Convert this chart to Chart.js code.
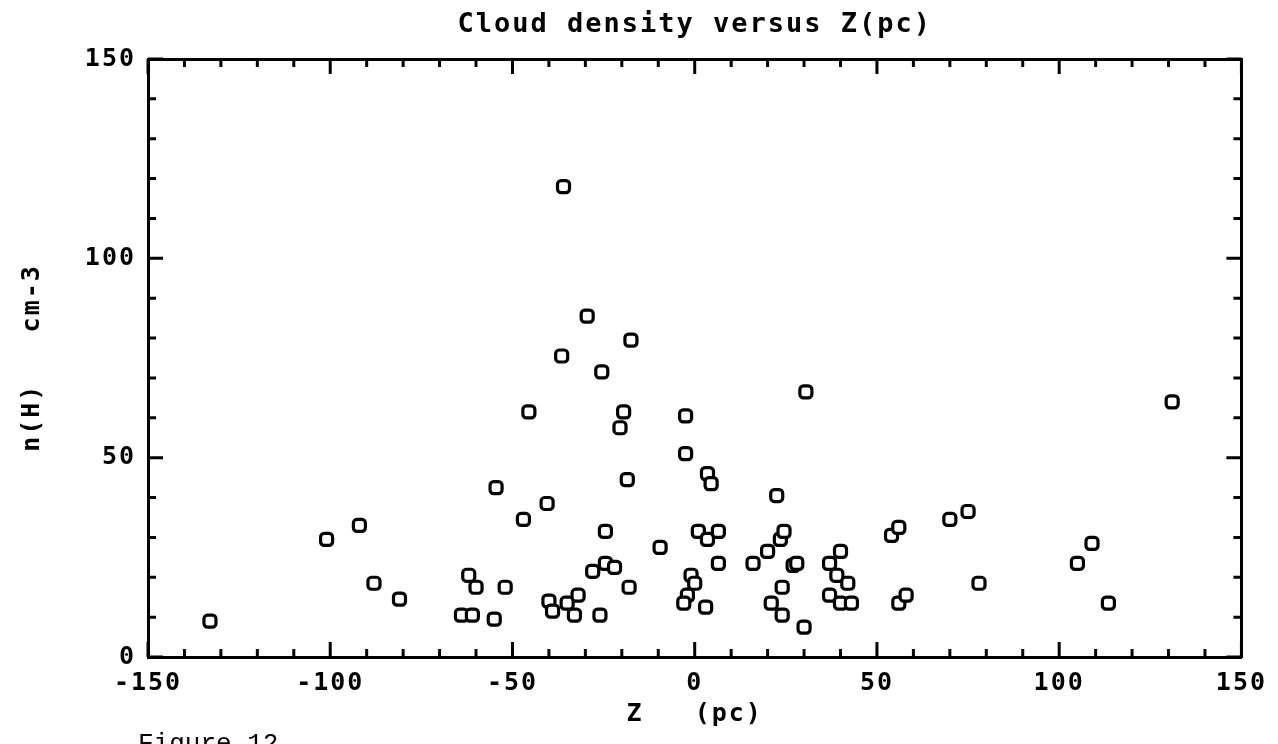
<!DOCTYPE html>
<html>
<head>
<meta charset="utf-8">
<script src="https://cdn.jsdelivr.net/npm/chart.js@4/dist/chart.umd.min.js"></script>
<style>
  html, body { margin: 0; padding: 0; background: #fff; overflow: hidden; }
  #wrap { position: relative; width: 1278px; height: 744px; overflow: hidden; }
  #fig { position: absolute; left: 138px; top: 731px; font-family: "Liberation Mono", monospace; font-size: 26px; line-height: 26px; color: #000; white-space: pre; }
</style>
</head>
<body>
<div id="wrap">
<canvas id="c" width="1278" height="744"></canvas>
<div id="fig">Figure 12</div>
</div>
<script>
// ---- data ----
const zValues = [
  -133, -101, -92, -88, -81, -64, -61, -62, -60, -55, -54.5, -52, -47, -45.5,
  -17.5, -36.5, -25.5, -19.5, -20.5, -2.5, -2.5, 30.5, -18.5, -40.5, 3.5, 4.5, 22.5,
  -24.5, -9.5, 1, 3.5, 6.5, 6.5, -24.5, -22, -28, -18, -40, -39, -35, -32, -33, -26,
  -1, 0, -2, -3, 3, 16, 20, 23.5, 24.5, 27, 28, 24, 21, 24, 30,
  37, 40, 39, 42, 37, 40, 43, 54, 56, 56, 58,
  -36, -29.5, 131, 70, 75, 78, 105, 109, 113.5
];
const densityValues = [
  9, 29.5, 33, 18.5, 14.5, 10.5, 10.5, 20.5, 17.5, 9.5, 42.5, 17.5, 34.5, 61.5,
  79.5, 75.5, 71.5, 61.5, 57.5, 60.5, 51, 66.5, 44.5, 38.5, 46, 43.5, 40.5,
  31.5, 27.5, 31.5, 29.5, 31.5, 23.5, 23.5, 22.5, 21.5, 17.5, 14, 11.5, 13.5, 15.5, 10.5, 10.5,
  20.5, 18.5, 15.5, 13.5, 12.5, 23.5, 26.5, 29.5, 31.5, 23, 23.5, 17.5, 13.5, 10.5, 7.5,
  23.5, 26.5, 20.5, 18.5, 15.5, 13.5, 13.5, 30.5, 32.5, 13.5, 15.5,
  118, 85.5, 64, 34.5, 36.5, 18.5, 23.5, 28.5, 13.5
];
const xRange = [-150, 150];
const yRange = [0, 150];
const xTickLabels = [-150, -100, -50, 0, 50, 100, 150];
const yTickLabels = [0, 50, 100, 150];
const titleText = 'Cloud density versus Z(pc)';
const xTitle = 'Z   (pc)';
const yTitle = 'n(H)   cm-3';

const points = zValues.map((z, i) => ({ x: z, y: densityValues[i] }));

const FONT = '"DejaVu Sans Mono", monospace';
const spacingPlugin = {
  id: 'spacing',
  beforeLayout(chart) { chart.ctx.letterSpacing = '2px'; },
  beforeDraw(chart) { chart.ctx.letterSpacing = '2px'; }
};
const inwardTicks = {
  id: 'inwardTicks',
  afterDatasetsDraw(chart) {
    const { ctx, chartArea: a, scales } = chart;
    ctx.save();
    ctx.strokeStyle = '#000';
    ctx.lineWidth = 3;
    ctx.lineCap = 'butt';
    ctx.beginPath();
    scales.x.ticks.forEach(t => {
      const px = scales.x.getPixelForValue(t.value);
      const len = xTickLabels.includes(t.value) ? 15 : 8;
      ctx.moveTo(px, a.bottom); ctx.lineTo(px, a.bottom - len);
      ctx.moveTo(px, a.top); ctx.lineTo(px, a.top + len);
    });
    scales.y.ticks.forEach(t => {
      const py = scales.y.getPixelForValue(t.value);
      const len = yTickLabels.includes(t.value) ? 15 : 8;
      ctx.moveTo(a.left, py); ctx.lineTo(a.left + len, py);
      ctx.moveTo(a.right, py); ctx.lineTo(a.right - len, py);
    });
    ctx.stroke();
    ctx.restore();
  }
};

new Chart(document.getElementById('c'), {
  type: 'scatter',
  data: {
    datasets: [{
      data: points,
      pointStyle: 'rectRounded',
      pointRadius: 7,
      pointHoverRadius: 7,
      pointBorderWidth: 3.2,
      pointBorderColor: '#000',
      pointBackgroundColor: '#fff'
    }]
  },
  options: {
    responsive: false,
    animation: false,
    devicePixelRatio: 1,
    events: [],
    layout: { padding: { left: 0, right: 36, top: 0, bottom: 0 } },
    plugins: { legend: { display: false }, tooltip: { enabled: false }, title: { display: false } },
    scales: {
      x: {
        type: 'linear', position: 'bottom', min: xRange[0], max: xRange[1],
        grid: { display: false, drawTicks: false },
        border: { display: true, width: 3, color: '#000' },
        ticks: {
          stepSize: 10, autoSkip: false, maxRotation: 0, padding: 11, color: '#000',
          font: { family: FONT, size: 25, weight: 'bold' },
          callback: v => xTickLabels.includes(v) ? String(v) : ''
        },
        title: { display: true, text: xTitle, color: '#000', font: { family: FONT, size: 25, weight: 'bold' }, padding: { top: 0, bottom: 15 } },
        afterFit: s => { s.height = 87; }
      },
      x2: {
        type: 'linear', position: 'top', min: xRange[0], max: xRange[1],
        grid: { display: false, drawTicks: false },
        border: { display: true, width: 3, color: '#000' },
        ticks: { display: false },
        title: { display: true, text: titleText, color: '#000', font: { family: FONT, size: 27, weight: 'bold' }, padding: { top: 9, bottom: 0 } },
        afterFit: s => { s.height = 59; }
      },
      y: {
        type: 'linear', position: 'left', min: yRange[0], max: yRange[1],
        grid: { display: false, drawTicks: false },
        border: { display: true, width: 3, color: '#000' },
        ticks: {
          stepSize: 10, autoSkip: false, padding: 12, color: '#000',
          font: { family: FONT, size: 25, weight: 'bold' },
          callback: v => yTickLabels.includes(v) ? String(v) : ''
        },
        title: { display: true, text: yTitle, color: '#000', font: { family: FONT, size: 25, weight: 'bold' }, padding: { top: 17, bottom: 0 } },
        afterFit: s => { s.width = 148; }
      },
      y2: {
        type: 'linear', position: 'right', min: yRange[0], max: yRange[1],
        grid: { display: false, drawTicks: false },
        border: { display: true, width: 3, color: '#000' },
        ticks: { display: false },
        afterFit: s => { s.width = 0; }
      }
    }
  },
  plugins: [spacingPlugin, inwardTicks]
});
</script>
</body>
</html>
